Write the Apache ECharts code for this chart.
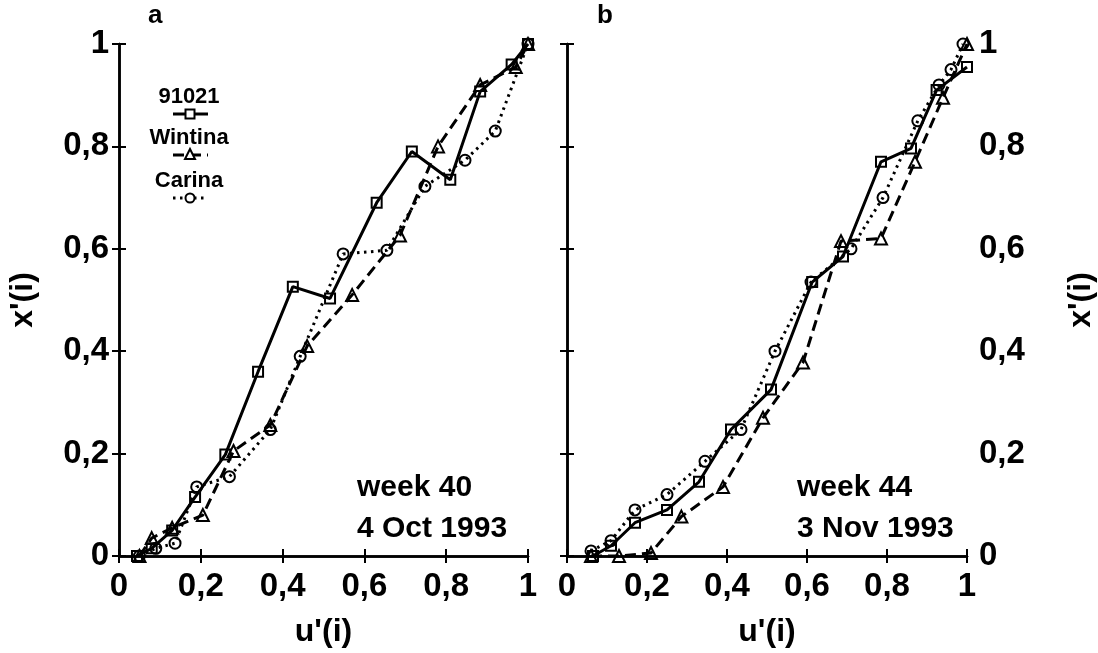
<!DOCTYPE html>
<html><head><meta charset="utf-8">
<script src="https://cdn.jsdelivr.net/npm/echarts@6/dist/echarts.min.js"></script>
<style>html,body{margin:0;padding:0;background:#fff}#c{width:1098px;height:653px}</style>
</head><body><div id="c"></div>
<script>
// ---- data ----
const xTickValues = [0, 0.2, 0.4, 0.6, 0.8, 1];
const seriesNames = ['91021', 'Wintina', 'Carina'];
const panelLabels = ['a', 'b'];
const panelNotes = ['week 40\n4 Oct 1993', 'week 44\n3 Nov 1993'];
const a91021 = [[0.044,0],[0.08,0.015],[0.13,0.05],[0.186,0.115],[0.26,0.198],[0.34,0.36],[0.425,0.526],[0.516,0.503],[0.63,0.69],[0.716,0.79],[0.81,0.735],[0.883,0.907],[0.96,0.96],[1,1]];
const aWintina = [[0.05,0],[0.08,0.035],[0.13,0.055],[0.205,0.08],[0.28,0.205],[0.37,0.256],[0.46,0.41],[0.57,0.51],[0.687,0.626],[0.78,0.80],[0.883,0.92],[0.97,0.955],[1,1]];
const aCarina = [[0.05,0],[0.09,0.015],[0.137,0.025],[0.19,0.135],[0.27,0.155],[0.37,0.247],[0.443,0.39],[0.548,0.59],[0.655,0.597],[0.748,0.722],[0.846,0.773],[0.92,0.83],[1,1]];
const b91021 = [[0.065,0],[0.11,0.02],[0.17,0.065],[0.25,0.09],[0.33,0.145],[0.41,0.247],[0.51,0.325],[0.613,0.535],[0.69,0.585],[0.785,0.77],[0.86,0.796],[0.924,0.91],[1,0.955]];
const bWintina = [[0.06,0],[0.13,0],[0.21,0.006],[0.286,0.077],[0.39,0.135],[0.49,0.27],[0.59,0.378],[0.685,0.615],[0.785,0.62],[0.87,0.77],[0.94,0.895],[1,1]];
const bCarina = [[0.06,0.01],[0.11,0.03],[0.17,0.09],[0.25,0.12],[0.345,0.185],[0.435,0.247],[0.52,0.40],[0.61,0.535],[0.71,0.60],[0.79,0.70],[0.877,0.85],[0.93,0.92],[0.96,0.95],[0.99,1.0]];

// ---- styles ----
const FONT = 'Liberation Sans, Arial, sans-serif';
const styles = {
  '91021':   { symbol: 'rect', size: 10, line: 'solid' },
  'Wintina': { symbol: 'triangle', size: 12, line: [11, 6] },
  'Carina':  { symbol: 'circle', size: 11, line: [2.5, 4.5] }
};
const fmt = v => (v === 0 ? '0' : v === 1 ? '1' : String(v).replace('.', ','));

const chart = echarts.init(document.getElementById('c'), null, {renderer: 'canvas'});

const grids = [
  { left: 119, top: 44, width: 409, bottom: 90 },
  { left: 567, top: 44, width: 406, bottom: 90 }
];
const axisLine = { show: true, lineStyle: { color: '#000', width: 2.5 } };
const tick = { show: true, inside: true, length: 7, lineStyle: { color: '#000', width: 2 } };
const labelStyle = { color: '#000', fontSize: 33, fontWeight: 'bold', fontFamily: FONT };
const nameStyle = { color: '#000', fontSize: 32, fontWeight: 'bold', fontFamily: FONT };

const xAxes = [], yAxes = [];
[0, 1].forEach(g => {
  xAxes.push({ gridIndex: g, type: 'value', min: 0, max: 1, interval: 0.2, position: 'bottom',
    axisLine, axisTick: tick, splitLine: { show: false },
    axisLabel: Object.assign({ margin: 14, formatter: fmt }, labelStyle),
    name: "u'(i)", nameLocation: 'middle', nameGap: 60, nameTextStyle: nameStyle });
  xAxes.push({ gridIndex: g, type: 'value', min: 0, max: 1, interval: 0.2, position: 'top',
    axisLine, axisTick: tick, splitLine: { show: false }, axisLabel: { show: false } });
  const labeledLeft = g === 0;
  yAxes.push({ gridIndex: g, type: 'value', min: 0, max: 1, interval: 0.2, position: 'left',
    axisLine, axisTick: tick, splitLine: { show: false },
    axisLabel: labeledLeft ? Object.assign({ margin: 10, formatter: fmt }, labelStyle) : { show: false },
    name: labeledLeft ? "x'(i)" : '', nameLocation: 'middle', nameGap: 80, nameTextStyle: nameStyle });
  yAxes.push({ gridIndex: g, type: 'value', min: 0, max: 1, interval: 0.2, position: 'right',
    axisLine, axisTick: tick, splitLine: { show: false },
    axisLabel: !labeledLeft ? Object.assign({ margin: 12, formatter: fmt }, labelStyle) : { show: false },
    name: !labeledLeft ? "x'(i)" : '', nameLocation: 'middle', nameGap: 98, nameRotate: 90, nameTextStyle: nameStyle });
});

const panelData = [
  { '91021': a91021, 'Wintina': aWintina, 'Carina': aCarina },
  { '91021': b91021, 'Wintina': bWintina, 'Carina': bCarina }
];
const series = [];
[0, 1].forEach(g => {
  seriesNames.forEach(name => {
    const st = styles[name];
    series.push({
      name, type: 'line', xAxisIndex: g * 2, yAxisIndex: g * 2,
      data: panelData[g][name],
      symbol: st.symbol, symbolSize: st.size, showSymbol: true,
      lineStyle: { color: '#000', width: 3, type: st.line, cap: 'butt' },
      itemStyle: { color: 'rgba(255,255,255,0)', borderColor: '#000', borderWidth: 2 },
      emphasis: { disabled: true }, animation: false, z: 3
    });
  });
});

const titleStyle = { fontSize: 26, fontWeight: 'bold', fontFamily: FONT, color: '#000' };
const noteStyle = { fontSize: 30, fontWeight: 'bold', fontFamily: FONT, color: '#000', lineHeight: 41 };
const titles = [
  { text: panelLabels[0], left: 143, top: -2, textStyle: titleStyle },
  { text: panelLabels[1], left: 592, top: -2, textStyle: titleStyle },
  { text: panelNotes[0], left: 352, top: 462, textStyle: noteStyle },
  { text: panelNotes[1], left: 792, top: 462, textStyle: noteStyle }
];

// legend drawn as graphic (label above a short line sample with marker)
const legendItems = [];
const legendY = [97, 138, 181];
seriesNames.forEach((name, i) => {
  const st = styles[name];
  const y = legendY[i];
  legendItems.push({ type: 'text', x: 189, y: y, style: { text: name, fontSize: 22, fontWeight: 'bold', fontFamily: FONT, fill: '#000', align: 'center', verticalAlign: 'middle' } });
  legendItems.push({ type: 'line', shape: { x1: 173, y1: y + 17, x2: 208, y2: y + 17 }, style: { stroke: '#000', lineWidth: 3, lineDash: st.line === 'solid' ? null : st.line } });
  const s = 9;
  let shape;
  if (st.symbol === 'rect') shape = { type: 'rect', shape: { x: 190 - s / 2, y: y + 17 - s / 2, width: s, height: s } };
  else if (st.symbol === 'circle') shape = { type: 'circle', shape: { cx: 190, cy: y + 17, r: 4.5 } };
  else shape = { type: 'polygon', shape: { points: [[190, y + 11], [195, y + 21], [185, y + 21]] } };
  shape.style = { fill: '#fff', stroke: '#000', lineWidth: 2 };
  legendItems.push(shape);
});

chart.setOption({
  backgroundColor: '#fff',
  animation: false,
  title: titles,
  grid: grids,
  xAxis: xAxes,
  yAxis: yAxes,
  series,
  graphic: legendItems
});
</script></body></html>
